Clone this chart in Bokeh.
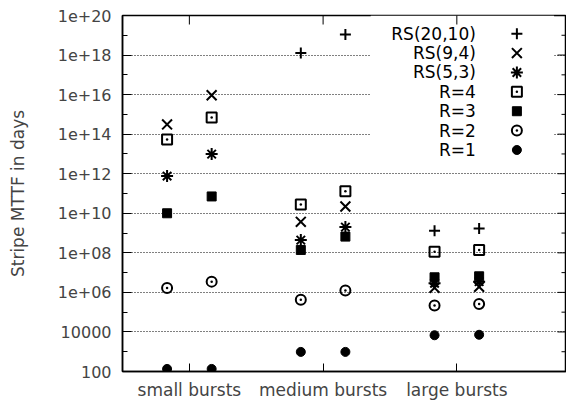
import math
from bokeh.plotting import figure
from bokeh.models import Range1d, FixedTicker, BoxAnnotation, Label, CustomJSTickFormatter
from bokeh.embed import file_html
from bokeh.resources import INLINE

nan = float("nan")

# ---- data -------------------------------------------------------------
categories = ["small bursts", "medium bursts", "large bursts"]
series_names = ["RS(20,10)", "RS(9,4)", "RS(5,3)", "R=4", "R=3", "R=2", "R=1"]
# two columns per burst size (left, right); stripe MTTF in days
rs_20_10 = [nan, nan, 1.26e18, 1.1e19, 1.3e9, 1.7e9]
rs_9_4 = [3.1e14, 9.3e15, 3.7e9, 2.2e10, 1.7e6, 1.9e6]
rs_5_3 = [7.6e11, 9.8e12, 4.4e8, 2.0e9, 2.9e6, 3.5e6]
r_4 = [5.4e13, 6.9e14, 2.8e10, 1.3e11, 1.15e8, 1.4e8]
r_3 = [1.0e10, 7.1e10, 1.4e8, 6.6e8, 5.8e6, 6.5e6]
r_2 = [1.66e6, 3.5e6, 4.3e5, 1.26e6, 2.2e5, 2.6e5]
r_1 = [135, 135, 980, 980, 6800, 7200]
series_values = [rs_20_10, rs_9_4, rs_5_3, r_4, r_3, r_2, r_1]

y_ticks = [1e2, 1e4, 1e6, 1e8, 1e10, 1e12, 1e14, 1e16, 1e18, 1e20]
y_tick_labels = ["100", "10000", "1e+06", "1e+08", "1e+10", "1e+12",
                 "1e+14", "1e+16", "1e+18", "1e+20"]
y_minor_ticks = [1e3, 1e5, 1e7, 1e9, 1e11, 1e13, 1e15, 1e17, 1e19]
x_ticks = [1, 2, 3]

# ---- styles -----------------------------------------------------------
FONT = "DejaVu Sans"
styles = [
    dict(marker="cross", size=11, line_width=2),
    dict(marker="x", size=14, line_width=2),
    dict(marker="asterisk", size=12, line_width=2),
    dict(marker="square_dot", size=10, line_width=2, fill_color=None),
    dict(marker="square", size=9, line_width=1, fill_color="black"),
    dict(marker="circle_dot", size=10, line_width=2, fill_color=None),
    dict(marker="circle", size=9, line_width=1, fill_color="black"),
]
COL_OFFSET = 1 / 6.0
X_START, X_END = 0.5, 3.82
Y_START, Y_END = 1e2, 1e20

p = figure(width=566, height=402, y_axis_type="log",
           x_range=Range1d(X_START, X_END), y_range=Range1d(Y_START, Y_END),
           output_backend="svg", toolbar_location=None,
           min_border_left=122, min_border_top=15, min_border_right=0,
           min_border_bottom=30)
p.background_fill_color = "white"
p.border_fill_color = "white"
p.outline_line_color = "black"
p.outline_line_width = 1.5
p.xgrid.visible = False

# y axis (left)
ya = p.yaxis[0]
ya.ticker = FixedTicker(ticks=y_ticks, minor_ticks=y_minor_ticks)
ya.formatter = CustomJSTickFormatter(args=dict(tick_vals=y_ticks, tick_labels=y_tick_labels), code="""
const i = tick_vals.findIndex(t => Math.abs(Math.log10(t) - Math.log10(tick)) < 1e-6);
return i >= 0 ? tick_labels[i] : '';
""")
ya.axis_label = "Stripe MTTF in days"
ya.axis_label_text_font = FONT
ya.axis_label_text_font_size = "17px"
ya.axis_label_text_font_style = "normal"
ya.axis_label_standoff = 27
ya.major_label_text_font = FONT
ya.major_label_text_font_size = "16px"
ya.major_label_standoff = 11
ya.major_tick_in = 9
ya.major_tick_out = 0
ya.minor_tick_in = 5
ya.minor_tick_out = 0
ya.axis_line_width = 1.5

p.ygrid.ticker = FixedTicker(ticks=y_ticks)
p.ygrid.grid_line_color = "black"
p.ygrid.grid_line_dash = "1 2"
p.ygrid.grid_line_width = 1

# x axis (bottom)
xa = p.xaxis[0]
xa.ticker = FixedTicker(ticks=x_ticks)
xa.formatter = CustomJSTickFormatter(args=dict(cat_labels=categories), code="""
const i = Math.round(tick) - 1;
return (i >= 0 && i < cat_labels.length) ? cat_labels[i] : '';
""")
xa.major_label_text_font = FONT
xa.major_label_text_font_size = "17px"
xa.major_label_standoff = 8
xa.major_tick_in = 8
xa.major_tick_out = 0
xa.axis_line_width = 1.5

# mirrored ticks on top / right edges: dash markers centred on the frame edge,
# half of each is clipped away by the frame
p.scatter(x=[X_END] * len(y_ticks), y=y_ticks, marker="dash", size=18,
          line_color="black", line_width=1)
p.scatter(x=[X_END] * len(y_minor_ticks), y=y_minor_ticks, marker="dash", size=10,
          line_color="black", line_width=1)
p.scatter(x=x_ticks, y=[Y_END] * len(x_ticks), marker="dash", angle=math.pi / 2,
          size=18, line_color="black", line_width=1)

# legend background (covers grid)
LEG_LEFT, LEG_RIGHT = 2.356, 3.727
LEG_BOTTOM_LOG = 12.69
box = BoxAnnotation(left=LEG_LEFT, right=LEG_RIGHT, top=Y_END, bottom=10 ** LEG_BOTTOM_LOG,
                    fill_color="white", fill_alpha=1.0, line_alpha=0, level="underlay")
p.add_layout(box)

# data points
xs = [c + d for c in x_ticks for d in (-COL_OFFSET, COL_OFFSET)]
for vals, st in zip(series_values, styles):
    p.scatter(x=xs, y=vals, line_color="black", **st)

# legend (text then symbol, gnuplot style)
LEG_TEXT_X, LEG_MARK_X = 3.142, 3.449
LEG_TOP_LOG, LEG_STEP_LOG = 19.08, 0.98
for k, (name, st) in enumerate(zip(series_names, styles)):
    yv = 10 ** (LEG_TOP_LOG - k * LEG_STEP_LOG)
    p.add_layout(Label(x=LEG_TEXT_X, y=yv, text=name, text_align="right",
                       text_baseline="middle", text_font=FONT, text_font_size="17px",
                       text_color="black"))
    p.scatter(x=[LEG_MARK_X], y=[yv], line_color="black", **st)

open("out.html", "w").write(file_html(p, INLINE))
